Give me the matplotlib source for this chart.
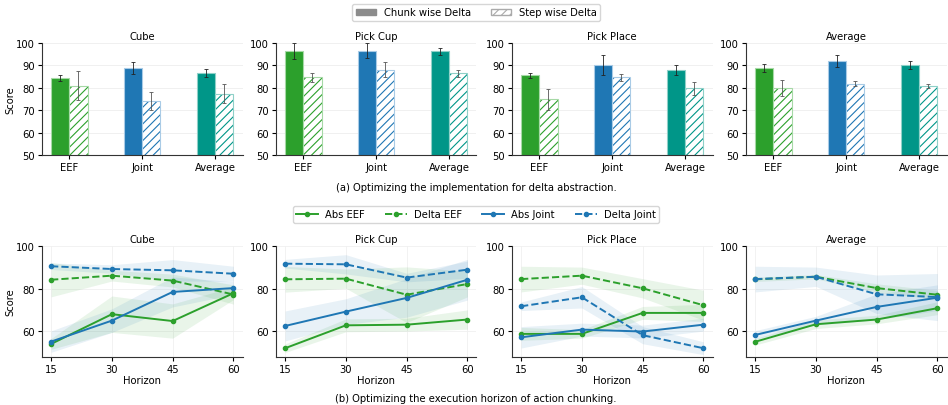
import matplotlib
matplotlib.use("Agg")
import matplotlib.pyplot as plt
import numpy as np
from matplotlib.patches import Patch
from matplotlib.lines import Line2D

plt.rcParams['font.family'] = ['DejaVu Sans']
plt.rcParams['hatch.linewidth'] = 0.8

# ---------------- data (a) ----------------
tasks = ["Cube", "Pick Cup", "Pick Place", "Average"]
bar_categories = ["EEF", "Joint", "Average"]
chunk_vals = {
    "Cube": [84.5, 88.7, 86.6],
    "Pick Cup": [96.3, 96.6, 96.3],
    "Pick Place": [85.5, 90.2, 88.0],
    "Average": [88.7, 91.8, 90.2],
}
chunk_err = {
    "Cube": [1.3, 2.7, 2.0],
    "Pick Cup": [3.6, 3.2, 1.6],
    "Pick Place": [1.0, 4.5, 2.4],
    "Average": [1.8, 2.7, 1.6],
}
step_vals = {
    "Cube": [81.0, 74.0, 77.4],
    "Pick Cup": [84.6, 88.1, 86.4],
    "Pick Place": [74.9, 84.6, 79.7],
    "Average": [79.8, 81.9, 80.7],
}
step_err = {
    "Cube": [6.3, 4.0, 4.1],
    "Pick Cup": [1.8, 3.4, 1.5],
    "Pick Place": [4.7, 1.5, 2.8],
    "Average": [3.6, 1.2, 1.0],
}

# ---------------- data (b) ----------------
horizons = [15, 30, 45, 60]
abs_eef = {
    "Cube": [54.1, 68.0, 64.8, 77.8],
    "Pick Cup": [52.1, 62.8, 63.1, 65.5],
    "Pick Place": [58.8, 58.8, 68.6, 68.6],
    "Average": [55.1, 63.3, 65.5, 70.8],
}
abs_eef_std = {
    "Cube": [2.5, 8.5, 8.0, 3.0],
    "Pick Cup": [2.0, 3.0, 3.0, 4.5],
    "Pick Place": [3.0, 2.0, 3.0, 4.0],
    "Average": [1.5, 2.0, 2.0, 3.0],
}
delta_eef = {
    "Cube": [84.1, 86.0, 83.7, 77.2],
    "Pick Cup": [84.3, 84.6, 77.1, 82.1],
    "Pick Place": [84.4, 86.0, 80.1, 72.2],
    "Average": [84.3, 85.5, 80.2, 77.1],
}
delta_eef_std = {
    "Cube": [8.0, 2.5, 3.0, 4.5],
    "Pick Cup": [6.0, 4.5, 13.0, 6.0],
    "Pick Place": [6.0, 4.0, 4.5, 7.0],
    "Average": [1.0, 1.0, 2.0, 2.0],
}
abs_joint = {
    "Cube": [55.2, 65.0, 78.4, 80.2],
    "Pick Cup": [62.5, 69.2, 75.6, 84.1],
    "Pick Place": [57.2, 60.8, 59.9, 63.1],
    "Average": [58.3, 65.0, 71.4, 75.7],
}
abs_joint_std = {
    "Cube": [5.0, 5.5, 7.0, 3.0],
    "Pick Cup": [7.0, 6.0, 9.0, 9.5],
    "Pick Place": [5.0, 3.0, 3.0, 3.0],
    "Average": [2.0, 2.0, 6.0, 6.0],
}
delta_joint = {
    "Cube": [90.4, 89.1, 88.5, 86.9],
    "Pick Cup": [91.6, 91.3, 85.1, 88.8],
    "Pick Place": [71.7, 75.9, 58.2, 52.1],
    "Average": [84.4, 85.5, 77.3, 76.0],
}
delta_joint_std = {
    "Cube": [1.5, 2.0, 5.0, 3.5],
    "Pick Cup": [2.0, 4.5, 2.0, 4.0],
    "Pick Place": [2.0, 5.0, 4.0, 3.0],
    "Average": [6.0, 4.5, 9.0, 11.0],
}

GREEN = "#2ca02c"
BLUE = "#1f77b4"
TEAL = "#009688"
LIGHT = {GREEN: "#a6d9a6", BLUE: "#a9cbe6", TEAL: "#8fd0c8"}
bar_colors = [GREEN, BLUE, TEAL]

FS = 7.2
W, H = 948, 406
fig = plt.figure(figsize=(W / 100, H / 100), dpi=100)

lefts = [42, 276, 512, 746]
aw = 200.5

def rect(l, top, bottom):
    return [l / W, 1 - bottom / H, aw / W, (bottom - top) / H]

def style(ax):
    ax.spines['top'].set_visible(False)
    ax.spines['right'].set_visible(False)
    for s in ['left', 'bottom']:
        ax.spines[s].set_linewidth(0.8)
        ax.spines[s].set_color('#333333')
    ax.tick_params(labelsize=FS, length=3, width=0.8, pad=2)
    ax.set_axisbelow(True)

# ---- top row ----
x = np.arange(len(bar_categories))
bw = 0.25
for i, t in enumerate(tasks):
    ax = fig.add_axes(rect(lefts[i], 44, 156))
    style(ax)
    ax.grid(True, axis='y', color='#eeeeee', linewidth=0.6)
    for j, c in enumerate(bar_colors):
        ax.bar(x[j] - bw / 2, chunk_vals[t][j], bw, color=c,
               edgecolor=LIGHT[c], linewidth=0.8, zorder=2)
        ax.bar(x[j] + bw / 2, step_vals[t][j], bw, color='white',
               edgecolor=c, hatch='////', linewidth=0, zorder=2)
        ax.bar(x[j] + bw / 2, step_vals[t][j], bw, color='none',
               edgecolor=LIGHT[c], linewidth=0.8, zorder=2)
        ax.errorbar(x[j] - bw / 2, chunk_vals[t][j], yerr=chunk_err[t][j],
                    fmt='none', ecolor='#222222', elinewidth=0.6, capsize=1.5,
                    capthick=0.6, zorder=3)
        ax.errorbar(x[j] + bw / 2, step_vals[t][j], yerr=step_err[t][j],
                    fmt='none', ecolor='#555555', elinewidth=0.6, capsize=1.5,
                    capthick=0.6, zorder=3)
    ax.set_ylim(50, 100)
    ax.set_yticks([50, 60, 70, 80, 90, 100])
    ax.set_xticks(x)
    ax.set_xticklabels(bar_categories)
    ax.set_xlim(-0.375, 2.375)
    ax.set_title(t, fontsize=FS, pad=3)
    if i == 0:
        ax.set_ylabel("Score", fontsize=FS, labelpad=0.5)

fig.legend(handles=[Patch(facecolor='#8c8c8c', edgecolor='#8c8c8c', label='Chunk wise Delta'),
                    Patch(facecolor='white', edgecolor='#aaaaaa', hatch='////', label='Step wise Delta')],
           loc='center', bbox_to_anchor=(476 / W, 1 - 13.5 / H), ncol=2, fontsize=FS,
           frameon=True, edgecolor='#cccccc', handlelength=2.0, handleheight=0.6,
           columnspacing=2.0, borderpad=0.35, handletextpad=0.8)
fig.text(476 / W, 1 - 188 / H, "(a) Optimizing the implementation for delta abstraction.",
         ha='center', va='center', fontsize=FS)

# ---- bottom row ----
series = [
    (abs_eef, abs_eef_std, GREEN, '-', 'Abs EEF'),
    (delta_eef, delta_eef_std, GREEN, '--', 'Delta EEF'),
    (abs_joint, abs_joint_std, BLUE, '-', 'Abs Joint'),
    (delta_joint, delta_joint_std, BLUE, '--', 'Delta Joint'),
]
for i, t in enumerate(tasks):
    ax = fig.add_axes(rect(lefts[i], 246.7, 358))
    style(ax)
    ax.grid(True, color='#f0f0f0', linewidth=0.6)
    for vals, std, c, ls, lab in series:
        v = np.array(vals[t])
        s = np.array(std[t])
        ax.fill_between(horizons, v - s, v + s, color=c, alpha=0.1, linewidth=0)
        ax.plot(horizons, v, color=c, linestyle=ls, marker='o', markersize=3,
                linewidth=1.4, label=lab)
    ax.set_ylim(48, 100)
    ax.set_yticks([60, 80, 100])
    ax.set_xticks(horizons)
    ax.set_xlabel("Horizon", fontsize=FS, labelpad=1)
    ax.set_title(t, fontsize=FS, pad=3)
    if i == 0:
        ax.set_ylabel("Score", fontsize=FS, labelpad=0.5)

handles = [Line2D([0], [0], color=c, linestyle=ls, marker='o', markersize=3,
                  linewidth=1.4, label=lab) for _, _, c, ls, lab in series]
fig.legend(handles=handles, loc='center', bbox_to_anchor=(476 / W, 1 - 215 / H), ncol=4,
           fontsize=FS, frameon=True, edgecolor='#cccccc', handlelength=2.2,
           columnspacing=2.0, borderpad=0.35, handletextpad=0.7)
fig.text(476 / W, 1 - 399 / H, "(b) Optimizing the execution horizon of action chunking.",
         ha='center', va='center', fontsize=FS)

fig.savefig("out.png", dpi=100)
